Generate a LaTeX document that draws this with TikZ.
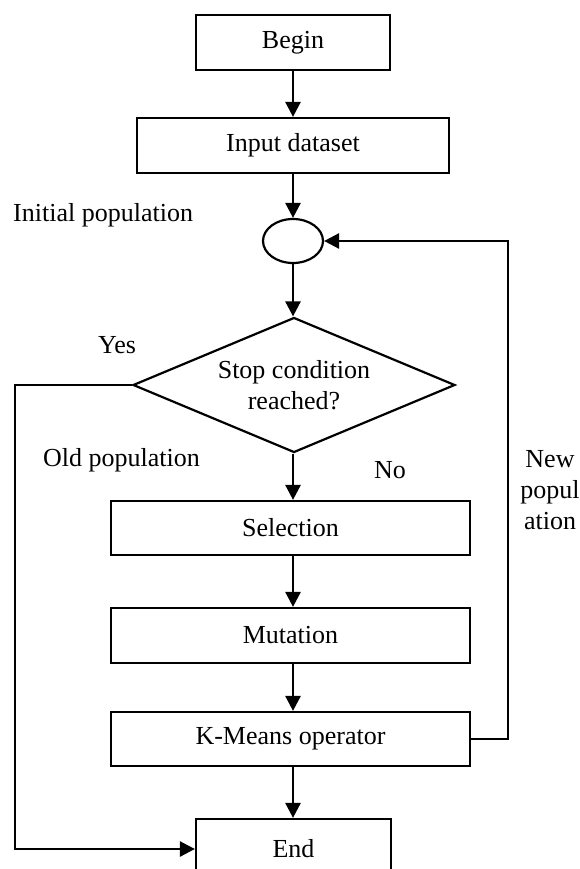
\documentclass[tikz,border=0pt]{standalone}
\usepackage{fontspec}
\setmainfont{Liberation Serif}
\usetikzlibrary{shapes.geometric,arrows.meta}
\begin{document}
\begin{tikzpicture}[x=1pt,y=-1pt,
  every node/.style={font=\fontsize{26}{31}\selectfont},
  box/.style={draw,line width=2.2pt,rectangle,inner sep=0pt},
  conn/.style={line width=2.6pt,-{Triangle[length=15pt,width=15pt]}},
  lbl/.style={inner sep=0pt}]
\useasboundingbox (0,0) rectangle (579,869);
\node[box,minimum width=194pt,minimum height=55pt] (begin) at (293,42.5) {Begin};
\node[box,minimum width=312pt,minimum height=55pt] (input) at (293,145.5) {Input dataset};
\node[draw,line width=2.2pt,ellipse,minimum width=60pt,minimum height=44pt,inner sep=0pt] (ell) at (293,241) {};
\node[draw,line width=2.2pt,diamond,aspect=2.385,minimum width=322pt,minimum height=135pt,inner sep=0pt,align=center] (dia) at (294,385) {Stop condition\\reached?};
\node[box,minimum width=359pt,minimum height=54pt] (sel) at (290.5,528) {Selection};
\node[box,minimum width=359pt,minimum height=55pt] (mut) at (290.5,635.5) {Mutation};
\node[box,minimum width=359pt,minimum height=54pt] (km) at (290.5,739) {K-Means operator};
\node[box,minimum width=195pt,minimum height=60pt] (end) at (293.5,849) {End};

\node[lbl,anchor=west] (linit) at (13,215) {Initial population};
\node[lbl] (lyes) at (117,345) {Yes};
\node[lbl,anchor=east] (lold) at (200,460) {Old population};
\node[lbl] (lno) at (390,470) {No};
\node[lbl,align=center] (lnew) at (550,490) {New\\popul\\ation};

\coordinate (ax) at (293,0);
\coordinate (lx) at (15,0);
\coordinate (rx) at (508,0);

\draw[conn] (begin) -- (input);
\draw[conn] (input) -- (ell);
\draw[conn] (ell) -- (ell |- dia.north);
\draw[conn] (dia.south -| ax) -- (sel.north -| ax);
\draw[conn] (sel.south -| ax) -- (mut.north -| ax);
\draw[conn] (mut.south -| ax) -- (km.north -| ax);
\draw[conn] (km.south -| ax) -- (end.north -| ax);
\draw[conn] (dia.west) -- (dia.west -| lx) -- (end.west -| lx) -- (end.west);
\draw[conn] (km.east) -- (km.east -| rx) -- (ell.east -| rx) -- (ell.east);
\end{tikzpicture}
\end{document}
